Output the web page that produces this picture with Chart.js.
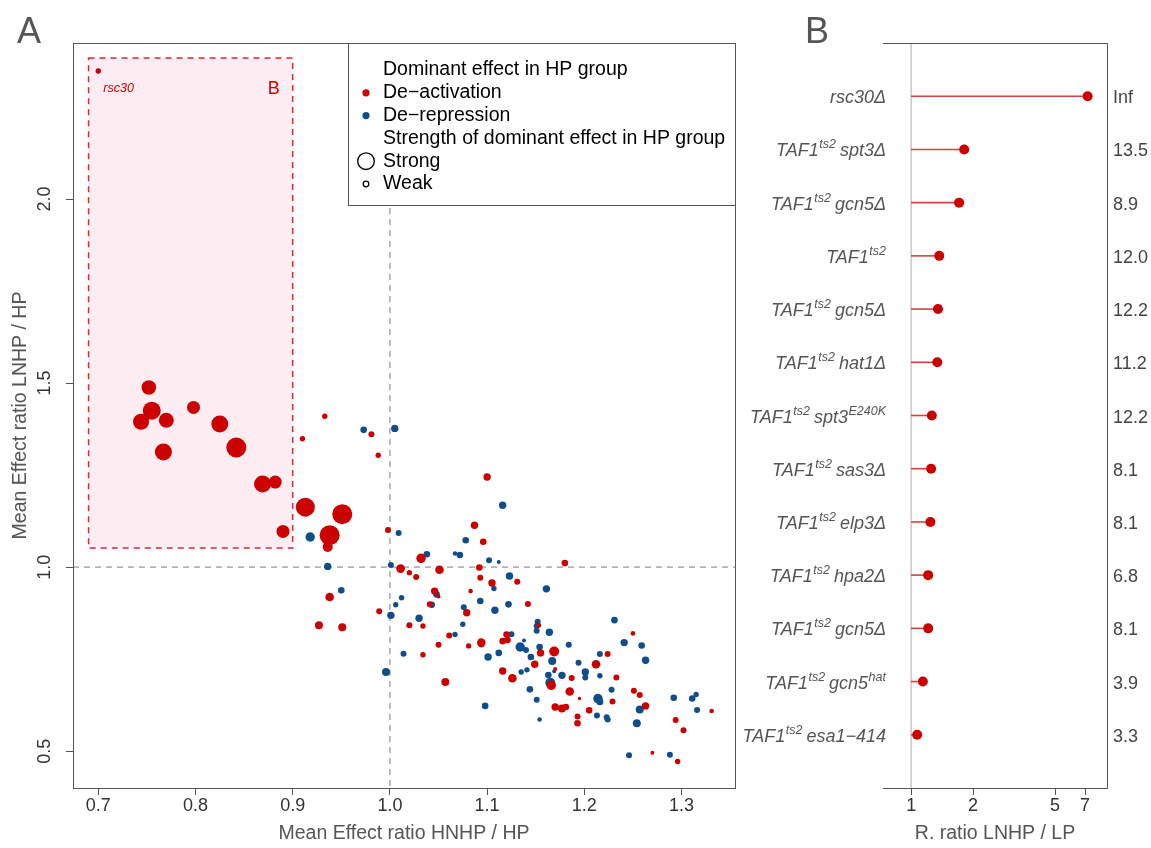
<!DOCTYPE html>
<html>
<head>
<meta charset="utf-8">
<script src="https://cdn.jsdelivr.net/npm/chart.js@4.4.1/dist/chart.umd.min.js"></script>
<style>
  html, body { margin: 0; padding: 0; background: #fff; }
  #wrap { position: relative; width: 1151px; height: 848px; }
  canvas { position: absolute; top: 0; }
  #chartA { left: 0; }
  #chartB { left: 700px; }
</style>
</head>
<body>
<div id="wrap">
  <canvas id="chartA" width="745" height="848"></canvas>
  <canvas id="chartB" width="451" height="848"></canvas>
</div>
<script>
// ---- panel A data ----
const xTicks = [0.7, 0.8, 0.9, 1.0, 1.1, 1.2, 1.3];
const yTicks = [0.5, 1.0, 1.5, 2.0];

// De-activation (red)
const redX = [
  0.700, 0.752, 0.755, 0.744, 0.770, 0.767, 0.798, 0.825, 0.842, 0.869,
  0.882, 0.890, 0.913, 0.951, 0.938, 0.936, 0.933, 0.910, 0.981, 0.988,
  0.998, 1.011, 1.020, 1.027, 1.032, 1.051, 1.087, 1.092, 1.093, 0.938,
  1.046, 1.050, 1.083, 1.100, 1.096, 1.180, 1.105, 1.131, 1.041, 1.142,
  1.079, 0.989, 1.020, 1.034, 1.061, 1.120, 1.116, 1.121, 1.094, 1.050,
  1.081, 1.155, 1.169, 1.034, 1.250, 1.224, 1.149, 1.212, 1.170, 1.116,
  1.126, 1.187, 1.233, 1.166, 1.251, 1.257, 1.185, 1.195, 1.229, 1.263,
  1.331, 1.170, 1.177, 1.181, 1.205, 1.193, 1.193, 1.294, 1.302, 1.270,
  1.296, 0.927, 0.951, 1.057, 1.153
];
const redY = [
  2.348, 1.488, 1.425, 1.395, 1.399, 1.313, 1.434, 1.389, 1.325, 1.226,
  1.231, 1.097, 1.163, 1.144, 1.087, 1.055, 1.410, 1.349, 1.361, 1.304,
  1.101, 0.996, 0.985, 0.973, 1.024, 0.993, 1.114, 0.999, 0.971, 0.919,
  0.935, 0.920, 0.935, 1.245, 1.069, 1.011, 0.957, 0.960, 0.899, 0.900,
  0.876, 0.880, 0.842, 0.840, 0.814, 0.817, 0.799, 0.802, 0.795, 0.789,
  0.786, 0.767, 0.771, 0.762, 0.820, 0.764, 0.736, 0.736, 0.723, 0.718,
  0.698, 0.699, 0.700, 0.679, 0.664, 0.653, 0.662, 0.643, 0.635, 0.623,
  0.609, 0.620, 0.616, 0.620, 0.611, 0.594, 0.576, 0.585, 0.557, 0.496,
  0.472, 0.842, 0.837, 0.688, 0.842
];
const redStrength = [
  0.27, 0.73, 0.90, 0.80, 0.75, 0.85, 0.65, 0.85, 1.00, 0.85,
  0.65, 0.65, 0.95, 1.00, 1.00, 0.50, 0.27, 0.27, 0.30, 0.27,
  0.30, 0.43, 0.27, 0.30, 0.47, 0.43, 0.37, 0.33, 0.30, 0.43,
  0.37, 0.20, 0.23, 0.37, 0.33, 0.33, 0.37, 0.30, 0.30, 0.30,
  0.37, 0.30, 0.30, 0.27, 0.30, 0.33, 0.33, 0.33, 0.43, 0.30,
  0.27, 0.37, 0.50, 0.27, 0.23, 0.30, 0.37, 0.43, 0.20, 0.37,
  0.43, 0.30, 0.30, 0.47, 0.30, 0.30, 0.43, 0.17, 0.30, 0.37,
  0.23, 0.37, 0.40, 0.33, 0.33, 0.30, 0.33, 0.30, 0.30, 0.20,
  0.27, 0.40, 0.40, 0.40, 0.25
];

// De-repression (blue)
const blueX = [
  0.918, 0.973, 1.005, 1.009, 0.936, 1.001, 1.038, 1.067, 1.072, 1.078,
  0.950, 1.012, 1.048, 1.116, 1.102, 1.112, 1.123, 1.107, 1.161, 1.093,
  1.006, 1.043, 1.076, 1.108, 1.122, 1.001, 1.030, 1.075, 1.152, 1.151,
  1.151, 1.164, 1.067, 1.125, 1.094, 1.138, 1.134, 1.112, 1.140, 1.154,
  1.184, 1.014, 1.101, 1.145, 1.167, 1.231, 1.241, 1.259, 1.263, 1.216,
  1.194, 1.169, 1.141, 1.135, 1.201, 1.201, 1.163, 1.177, 1.216, 1.165,
  1.144, 1.228, 1.214, 1.216, 1.257, 1.151, 1.292, 1.311, 1.315, 1.316,
  1.098, 1.213, 1.223, 1.224, 1.254, 1.154, 1.246, 1.288, 0.996
];
const blueY = [
  1.082, 1.373, 1.377, 1.093, 1.002, 1.006, 1.035, 1.037, 1.033, 1.073,
  0.937, 0.917, 0.926, 1.168, 1.019, 1.014, 0.976, 0.942, 0.941, 0.908,
  0.898, 0.898, 0.891, 0.883, 0.899, 0.869, 0.861, 0.845, 0.852, 0.840,
  0.827, 0.823, 0.817, 0.818, 0.790, 0.801, 0.783, 0.767, 0.775, 0.783,
  0.789, 0.765, 0.756, 0.756, 0.745, 0.856, 0.795, 0.787, 0.747, 0.764,
  0.740, 0.717, 0.721, 0.715, 0.715, 0.700, 0.707, 0.706, 0.705, 0.686,
  0.668, 0.667, 0.643, 0.634, 0.613, 0.640, 0.645, 0.643, 0.654, 0.612,
  0.623, 0.597, 0.592, 0.586, 0.576, 0.586, 0.489, 0.490, 0.715
];
const blueStrength = [
  0.47, 0.33, 0.37, 0.30, 0.37, 0.30, 0.33, 0.23, 0.33, 0.33,
  0.33, 0.27, 0.33, 0.37, 0.30, 0.20, 0.37, 0.27, 0.37, 0.33,
  0.27, 0.33, 0.30, 0.37, 0.33, 0.37, 0.37, 0.27, 0.30, 0.30,
  0.30, 0.37, 0.27, 0.30, 0.30, 0.20, 0.47, 0.33, 0.30, 0.33,
  0.30, 0.30, 0.37, 0.33, 0.40, 0.33, 0.37, 0.33, 0.37, 0.30,
  0.30, 0.20, 0.27, 0.27, 0.37, 0.30, 0.33, 0.37, 0.27, 0.50,
  0.33, 0.30, 0.47, 0.35, 0.40, 0.30, 0.33, 0.33, 0.27, 0.30,
  0.33, 0.30, 0.30, 0.30, 0.40, 0.23, 0.30, 0.30, 0.40
];

// highlighted region "B" (data coords)
const boxB = { x0: 0.69, x1: 0.90, y0: 1.052, y1: 2.383 };

// ---- panel B data ----
const strainLabels = [
  ['rsc30Δ'],
  ['TAF1', 'ts2', 'spt3Δ'],
  ['TAF1', 'ts2', 'gcn5Δ'],
  ['TAF1', 'ts2'],
  ['TAF1', 'ts2', 'gcn5Δ'],
  ['TAF1', 'ts2', 'hat1Δ'],
  ['TAF1', 'ts2', 'spt3', 'E240K'],
  ['TAF1', 'ts2', 'sas3Δ'],
  ['TAF1', 'ts2', 'elp3Δ'],
  ['TAF1', 'ts2', 'hpa2Δ'],
  ['TAF1', 'ts2', 'gcn5Δ'],
  ['TAF1', 'ts2', 'gcn5', 'hat'],
  ['TAF1', 'ts2', 'esa1−414']
];
const ratioLNHP = [7.2, 1.81, 1.71, 1.37, 1.35, 1.34, 1.26, 1.25, 1.24, 1.21, 1.21, 1.14, 1.07];
const ratioText = ['Inf', '13.5', '8.9', '12.0', '12.2', '11.2', '12.2', '8.1', '8.1', '6.8', '8.1', '3.9', '3.3'];
const bTicks = [1, 2, 5, 7];

const RED = '#CD0000';
const BLUE = '#104E8B';
const FONT = "'Liberation Sans', Arial, sans-serif";
const AXIS_GREY = '#555';

function bubbles(xs, ys, ss) {
  return xs.map((x, i) => ({ x: x, y: ys[i], r: ss[i] * 10 }));
}

const panelA = {
  id: 'panelA',
  beforeDatasetsDraw(chart) {
    const { ctx, chartArea: a, scales: { x, y } } = chart;
    ctx.save();
    // shaded region
    const l = x.getPixelForValue(boxB.x0), r = x.getPixelForValue(boxB.x1);
    const t = y.getPixelForValue(boxB.y1), b = y.getPixelForValue(boxB.y0);
    ctx.fillStyle = '#fdecf1';
    ctx.fillRect(l, t, r - l, b - t);
    ctx.setLineDash([6, 5]);
    ctx.strokeStyle = '#e3262e';
    ctx.lineWidth = 1.5;
    ctx.strokeRect(l, t, r - l, b - t);
    // reference lines at 1
    const x1 = x.getPixelForValue(1), y1 = y.getPixelForValue(1);
    ctx.strokeStyle = '#999';
    ctx.lineWidth = 1.3;
    ctx.beginPath(); ctx.moveTo(x1, a.top); ctx.lineTo(x1, a.bottom); ctx.stroke();
    ctx.strokeStyle = '#b5b5b5';
    ctx.lineWidth = 1.6;
    ctx.beginPath(); ctx.moveTo(a.left, y1); ctx.lineTo(a.right, y1); ctx.stroke();
    ctx.setLineDash([]);
    // labels inside region
    ctx.fillStyle = RED;
    ctx.font = 'italic 12.5px ' + FONT;
    ctx.textBaseline = 'middle';
    ctx.textAlign = 'left';
    ctx.fillText('rsc30', x.getPixelForValue(redX[0]) + 5, y.getPixelForValue(redY[0]) + 18);
    ctx.font = '18px ' + FONT;
    ctx.textAlign = 'right';
    ctx.fillText('B', r - 13, y.getPixelForValue(redY[0]) + 18);
    ctx.restore();
  },
  afterDraw(chart) {
    const { ctx, chartArea: a, scales: { x, y } } = chart;
    ctx.save();
    // plot frame
    ctx.strokeStyle = AXIS_GREY;
    ctx.lineWidth = 1;
    ctx.strokeRect(a.left + 0.5, a.top + 0.5, a.right - a.left, a.bottom - a.top);
    // rotated y tick labels
    ctx.fillStyle = '#333';
    ctx.font = '18px ' + FONT;
    ctx.textAlign = 'center';
    ctx.textBaseline = 'middle';
    yTicks.forEach(v => {
      ctx.save();
      ctx.translate(a.left - 28, y.getPixelForValue(v));
      ctx.rotate(-Math.PI / 2);
      ctx.fillText(v.toFixed(1), 0, 0);
      ctx.restore();
    });
    // axis titles
    ctx.fillStyle = AXIS_GREY;
    ctx.font = '19.5px ' + FONT;
    ctx.fillText('Mean Effect ratio HNHP / HP', (a.left + a.right) / 2, 834);
    ctx.save();
    ctx.translate(21, (a.top + a.bottom) / 2);
    ctx.rotate(-Math.PI / 2);
    ctx.fillText('Mean Effect ratio LNHP / HP', 0, 0);
    ctx.restore();
    // panel letter
    ctx.font = '36px ' + FONT;
    ctx.textAlign = 'left';
    ctx.textBaseline = 'alphabetic';
    ctx.fillText('A', 17, 43);
    // legend
    const lx = 348, ly = a.top, lw = a.right - lx, lh = 162;
    ctx.fillStyle = '#fff';
    ctx.fillRect(lx, ly, lw, lh);
    ctx.strokeStyle = AXIS_GREY;
    ctx.strokeRect(lx + 0.5, ly + 0.5, lw, lh);
    const rows = [
      { text: 'Dominant effect in HP group' },
      { text: 'De−activation', dot: RED },
      { text: 'De−repression', dot: BLUE },
      { text: 'Strength of dominant effect in HP group' },
      { text: 'Strong', ring: 8.3 },
      { text: 'Weak', ring: 2.8 }
    ];
    ctx.font = '19.5px ' + FONT;
    ctx.textBaseline = 'middle';
    rows.forEach((row, i) => {
      const ry = ly + 27 + i * 22.8;
      ctx.fillStyle = '#000';
      ctx.fillText(row.text, 383, ry);
      if (row.dot) {
        ctx.fillStyle = row.dot;
        ctx.beginPath(); ctx.arc(366, ry, 3.6, 0, Math.PI * 2); ctx.fill();
      }
      if (row.ring) {
        ctx.strokeStyle = '#000';
        ctx.lineWidth = 1.3;
        ctx.beginPath(); ctx.arc(366, ry, row.ring, 0, Math.PI * 2); ctx.stroke();
      }
    });
    ctx.restore();
  }
};

new Chart(document.getElementById('chartA'), {
  type: 'bubble',
  data: {
    datasets: [
      { label: 'De-activation', data: bubbles(redX, redY, redStrength), backgroundColor: RED, borderWidth: 0 },
      { label: 'De-repression', data: bubbles(blueX, blueY, blueStrength), backgroundColor: BLUE, borderWidth: 0 }
    ]
  },
  options: {
    responsive: false,
    animation: false,
    events: [],
    layout: { padding: { top: 43, right: 8, left: 0, bottom: 0 } },
    plugins: { legend: { display: false }, tooltip: { enabled: false } },
    scales: {
      x: {
        type: 'linear',
        bounds: 'data',
        min: 0.674,
        max: 1.355,
        afterBuildTicks: s => { s.ticks = xTicks.map(v => ({ value: v })); },
        afterFit: s => { s.height = 60; },
        ticks: { callback: v => v.toFixed(1), color: '#333', font: { family: FONT, size: 18 }, padding: 0, maxRotation: 0 },
        grid: { drawOnChartArea: false, drawTicks: true, tickLength: 7, color: AXIS_GREY },
        border: { display: false }
      },
      y: {
        type: 'linear',
        bounds: 'data',
        min: 0.40,
        max: 2.424,
        afterBuildTicks: s => { s.ticks = yTicks.map(v => ({ value: v })); },
        afterFit: s => { s.width = 73; },
        ticks: { display: false },
        grid: { drawOnChartArea: false, drawTicks: true, tickLength: 7, color: AXIS_GREY },
        border: { display: false }
      }
    }
  },
  plugins: [panelA]
});

// ---- panel B ----
function drawStrain(ctx, parts, right, baseY) {
  const base = 'italic 18px ' + FONT, sup = 'italic 12.5px ' + FONT;
  const segs = parts.map((p, i) => {
    const isSup = i % 2 === 1;
    ctx.font = isSup ? sup : base;
    return {
      text: p,
      font: isSup ? sup : base,
      w: ctx.measureText(p).width,
      gap: (isSup || i === 0) ? 0.5 : 4,
      dy: isSup ? -8 : 0
    };
  });
  const total = segs.reduce((s, g) => s + g.w + g.gap, 0);
  let cx = right - total;
  segs.forEach(g => {
    cx += g.gap;
    ctx.font = g.font;
    ctx.fillText(g.text, cx, baseY + g.dy);
    cx += g.w;
  });
}

const panelB = {
  id: 'panelB',
  beforeDatasetsDraw(chart) {
    const { ctx, chartArea: a, scales: { x, y } } = chart;
    ctx.save();
    const x1 = x.getPixelForValue(1);
    ctx.strokeStyle = '#c8c8c8';
    ctx.lineWidth = 1.5;
    ctx.beginPath(); ctx.moveTo(x1, a.top); ctx.lineTo(x1, a.bottom); ctx.stroke();
    ctx.strokeStyle = 'rgba(205,0,0,0.75)';
    ctx.lineWidth = 1.6;
    ratioLNHP.forEach((v, i) => {
      const py = y.getPixelForValue(i + 1);
      ctx.beginPath(); ctx.moveTo(x1, py); ctx.lineTo(x.getPixelForValue(v), py); ctx.stroke();
    });
    ctx.restore();
  },
  afterDraw(chart) {
    const { ctx, chartArea: a, scales: { x, y } } = chart;
    ctx.save();
    // frame: top, right, bottom
    ctx.strokeStyle = AXIS_GREY;
    ctx.lineWidth = 1;
    ctx.beginPath();
    ctx.moveTo(a.left, a.top + 0.5); ctx.lineTo(a.right + 0.5, a.top + 0.5);
    ctx.lineTo(a.right + 0.5, a.bottom + 0.5); ctx.lineTo(a.left, a.bottom + 0.5);
    ctx.stroke();
    // strain labels and ratio texts
    ctx.textBaseline = 'alphabetic';
    ctx.textAlign = 'left';
    strainLabels.forEach((parts, i) => {
      const py = y.getPixelForValue(i + 1);
      ctx.fillStyle = '#555';
      drawStrain(ctx, parts, a.left + 3, py + 7);
      ctx.font = '18px ' + FONT;
      ctx.fillStyle = '#444';
      ctx.fillText(ratioText[i], a.right + 6, py + 7);
    });
    // axis title
    ctx.fillStyle = AXIS_GREY;
    ctx.font = '19.5px ' + FONT;
    ctx.textAlign = 'center';
    ctx.textBaseline = 'middle';
    ctx.fillText('R. ratio LNHP / LP', (a.left + a.right) / 2, 834);
    // panel letter
    ctx.font = '36px ' + FONT;
    ctx.textAlign = 'left';
    ctx.textBaseline = 'alphabetic';
    ctx.fillText('B', 105, 43);
    ctx.restore();
  }
};

new Chart(document.getElementById('chartB'), {
  type: 'scatter',
  data: {
    datasets: [{
      label: 'R. ratio LNHP / LP',
      data: ratioLNHP.map((v, i) => ({ x: v, y: i + 1 })),
      backgroundColor: RED,
      borderWidth: 0,
      pointRadius: 5
    }]
  },
  options: {
    responsive: false,
    animation: false,
    events: [],
    layout: { padding: { top: 43, right: 44, left: 183, bottom: 0 } },
    plugins: { legend: { display: false }, tooltip: { enabled: false } },
    scales: {
      x: {
        type: 'logarithmic',
        bounds: 'data',
        min: 0.73,
        max: 8.94,
        afterBuildTicks: s => { s.ticks = bTicks.map(v => ({ value: v })); },
        afterFit: s => { s.height = 60; },
        ticks: { callback: v => String(v), color: '#333', font: { family: FONT, size: 18 }, padding: 0, maxRotation: 0, autoSkip: false },
        grid: { drawOnChartArea: false, drawTicks: true, tickLength: 7, color: AXIS_GREY },
        border: { display: false }
      },
      y: {
        type: 'linear',
        display: false,
        reverse: true,
        min: 0,
        max: 14
      }
    }
  },
  plugins: [panelB]
});
</script>
</body>
</html>
